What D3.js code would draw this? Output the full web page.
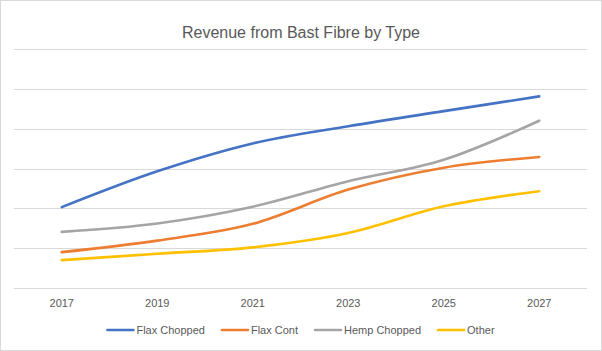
<!DOCTYPE html>
<html>
<head>
<meta charset="utf-8">
<script src="https://cdn.jsdelivr.net/npm/d3@7"></script>
<style>
  body { margin: 0; background: #fff; }
  svg { display: block; font-family: "Liberation Sans", Arial, sans-serif; }
</style>
</head>
<body>
<svg id="chart" width="602" height="351"></svg>
<script>
// data (units: one gridline = 100)
const years = [2017, 2019, 2021, 2023, 2025, 2027];
const seriesNames = ["Flax Chopped", "Flax Cont", "Hemp Chopped", "Other"];
const flaxChopped = [203, 293, 363, 406, 444, 481];
const flaxCont = [90, 119, 161, 247, 302, 329];
const hempChopped = [141, 162, 204, 268, 322, 420];
const other = [70, 86, 102, 138, 205, 243];
const yTicks = [0, 100, 200, 300, 400, 500, 600];

const colors = ["#4472C4", "#ED7D31", "#A5A5A5", "#FFC000"];
const allSeries = [flaxChopped, flaxCont, hempChopped, other];

const W = 602, H = 351;
const margin = {top: 49, right: 15, bottom: 63, left: 14};

const svg = d3.select("#chart");

// outer border
svg.append("rect")
    .attr("x", 0.5).attr("y", 0.5)
    .attr("width", W - 1).attr("height", H - 1)
    .attr("fill", "#fff")
    .attr("stroke", "#d9d9d9");

const x = d3.scaleBand()
    .domain(years)
    .range([margin.left, W - margin.right]);
const y = d3.scaleLinear()
    .domain([0, 600])
    .range([H - margin.bottom, margin.top]);

// gridlines
svg.append("g")
    .selectAll("line")
    .data(yTicks)
    .enter().append("line")
    .attr("x1", margin.left).attr("x2", W - margin.right)
    .attr("y1", d => Math.round(y(d)) + 0.5)
    .attr("y2", d => Math.round(y(d)) + 0.5)
    .attr("stroke", "#d9d9d9")
    .attr("stroke-width", 1);

// x axis labels
const xAxis = d3.axisBottom(x).tickSize(0).tickPadding(0);
const gx = svg.append("g")
    .attr("transform", "translate(0," + (H - margin.bottom) + ")")
    .call(xAxis);
gx.select(".domain").remove();
gx.selectAll("text")
    .attr("y", 19)
    .attr("dy", 0)
    .attr("fill", "#595959")
    .style("font-size", "11px")
    .style("font-family", "'Liberation Sans', Arial, sans-serif");

// lines
const line = d3.line()
    .x((d, i) => x(years[i]) + x.bandwidth() / 2)
    .y(d => y(d))
    .curve(d3.curveCardinal.tension(0));

svg.append("g")
    .selectAll("path")
    .data(allSeries)
    .enter().append("path")
    .attr("d", line)
    .attr("fill", "none")
    .attr("stroke", (d, i) => colors[i])
    .attr("stroke-width", 2.6)
    .attr("stroke-linecap", "round");

// title
svg.append("text")
    .attr("x", W / 2)
    .attr("y", 38)
    .attr("text-anchor", "middle")
    .attr("fill", "#595959")
    .style("font-size", "16px")
    .text("Revenue from Bast Fibre by Type");

// legend
const legend = svg.append("g");
let lx = 0;
seriesNames.forEach((name, i) => {
  const g = legend.append("g").attr("transform", "translate(" + lx + ",0)");
  g.append("line")
      .attr("x1", 0).attr("x2", 26)
      .attr("y1", 330).attr("y2", 330)
      .attr("stroke", colors[i])
      .attr("stroke-width", 2.6)
      .attr("stroke-linecap", "round");
  const t = g.append("text")
      .attr("x", 29)
      .attr("y", 334)
      .attr("fill", "#595959")
      .style("font-size", "11px")
      .text(name);
  lx += 29 + t.node().getComputedTextLength() + 17;
});
lx -= 17;
legend.attr("transform", "translate(" + (W / 2 - lx / 2) + ",0)");
</script>
</body>
</html>
